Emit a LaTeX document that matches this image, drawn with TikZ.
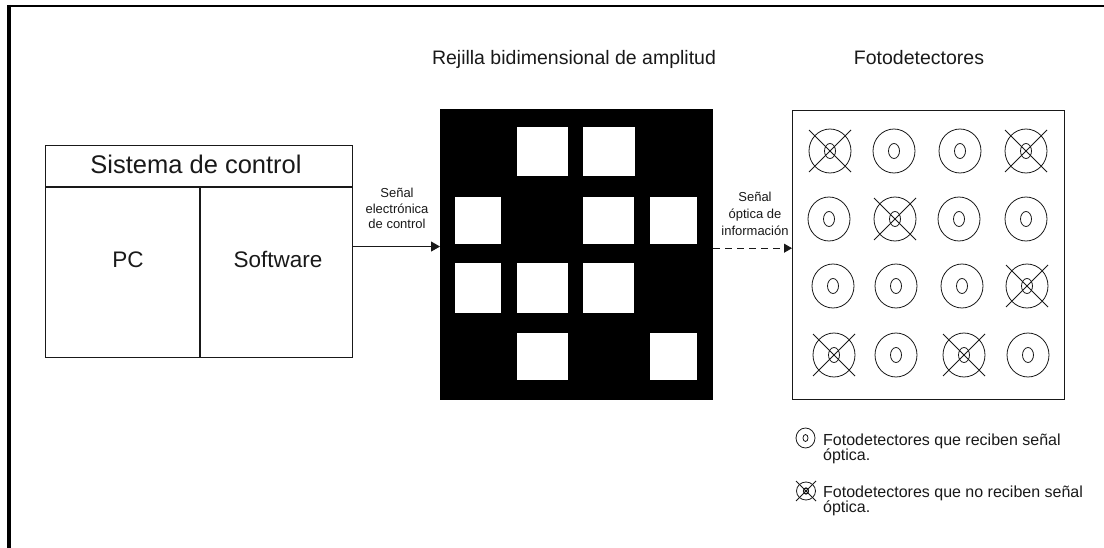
\documentclass[tikz,border=0pt]{standalone}
\usepackage{fontspec}
\setmainfont{Liberation Sans}
\usetikzlibrary{arrows.meta,shapes.geometric}
\definecolor{ink}{rgb}{0.1,0.1,0.1}

\begin{document}
\begin{tikzpicture}[x=1pt,y=-1pt,
  box/.style={draw=ink, line width=1.1pt, inner sep=0pt, anchor=north west},
  txt/.style={text=ink, inner sep=0pt},
  note/.style={txt, align=center, font=\fontsize{13}{15.5}\selectfont},
  legtext/.style={txt, anchor=base west, font=\fontsize{16}{18}\selectfont},
  sig/.style={draw=ink, line width=0.9pt, -{Triangle[length=9pt,width=10pt]}},
  det/.style={ellipse, draw=ink, line width=0.8pt, minimum width=42pt, minimum height=44pt, inner sep=0pt},
  core/.style={ellipse, draw=ink, line width=0.8pt, minimum width=11pt, minimum height=15pt, inner sep=0pt},
  xline/.style={draw=ink, line width=0.8pt},
  hole/.style={fill=white}
]
\useasboundingbox (0,0) rectangle (1104,548);

% page frame (top and left edges)
\draw[line width=2pt] (7,6.5) -- (1104,6.5);
\draw[line width=3.2pt] (9,5) -- (9,548);

% control system block
\node[box, minimum width=307pt, minimum height=212pt] (ctrl) at (45,145) {};
\draw[draw=ink, line width=1.1pt] ([yshift=-42pt]ctrl.north west) -- ([yshift=-42pt]ctrl.north east);
\draw[draw=ink, line width=1.1pt] ([xshift=155pt,yshift=-42pt]ctrl.north west) -- ([xshift=155pt]ctrl.south west);
\node[txt, anchor=base, font=\fontsize{25.5}{29}\selectfont] (ctrltitle) at (196,174) {Sistema de control};
\node[txt, anchor=base, font=\fontsize{22.5}{26}\selectfont] (pc) at (128,268) {PC};
\node[txt, anchor=base, font=\fontsize{22.5}{26}\selectfont] (sw) at (278,268) {Software};

% two-dimensional amplitude grid
\node[txt, anchor=base, font=\fontsize{19.5}{23}\selectfont] (gridtitle) at (574,65) {Rejilla bidimensional de amplitud};
\node[fill=black, inner sep=0pt, anchor=north west, minimum width=273pt, minimum height=291pt] (grid) at (440,109) {};
% open cells
\fill[hole] (517,127) rectangle (568,176);
\fill[hole] (583,127) rectangle (635,176);
\fill[hole] (455,197) rectangle (501,244);
\fill[hole] (583,197) rectangle (634,244);
\fill[hole] (650,197) rectangle (697,244);
\fill[hole] (455,263) rectangle (501,313);
\fill[hole] (517,263) rectangle (568,313);
\fill[hole] (583,263) rectangle (634,313);
\fill[hole] (517,333) rectangle (568,380);
\fill[hole] (650,333) rectangle (697,380);

% photodetector array
\node[txt, anchor=base, font=\fontsize{19.5}{23}\selectfont] (dettitle) at (919,65) {Fotodetectores};
\node[box, minimum width=272pt, minimum height=289pt] (det) at (792,110) {};
\foreach \n/\x/\y/\k in {
  11/830/151/1, 12/894/151/0, 13/960/151/0, 14/1026/151/1,
  21/829/219/0, 22/895/219/1, 23/959/219/0, 24/1026/219/0,
  31/833/286/0, 32/896/286/0, 33/962/286/0, 34/1027/286/1,
  41/834/355/1, 42/896/355/0, 43/964/355/1, 44/1028/355/0}{
  \node[det] (d\n) at (\x,\y) {};
  \node[core] (c\n) at (d\n) {};
  \ifnum\k=1
    \draw[xline] ([shift={(-21,-21)}]d\n.center) -- ([shift={(21,21)}]d\n.center)
                 ([shift={(21,-21)}]d\n.center) -- ([shift={(-21,21)}]d\n.center);
  \fi
}

% signals between the blocks
\draw[sig] ([yshift=5pt]ctrl.east) -- ([yshift=5pt]ctrl.east -| grid.west);
\node[note, anchor=south] (lab1) at (397,229) {Señal\\electrónica\\de control};
\draw[sig, dash pattern=on 7pt off 5pt, -{Triangle[length=8pt,width=9pt]}]
  ([yshift=6.5pt]grid.east) -- ([yshift=6.5pt]grid.east -| det.west);
\node[note, anchor=south, font=\fontsize{13}{17}\selectfont] (lab2) at (755,236) {Señal\\óptica de\\información};

% legend
\node[det, minimum width=19pt, minimum height=20pt] (leg1) at (805.5,438) {};
\node[core, minimum width=5pt, minimum height=7pt] (legc1) at (leg1) {};
\node[legtext] (legt1a) at (823,445) {Fotodetectores que reciben señal};
\node[legtext] (legt1b) at (823,460) {óptica.};

\node[det, minimum width=19pt, minimum height=18pt] (leg2) at (806,491) {};
\node[core, minimum width=5pt, minimum height=6pt, line width=1.2pt] (legc2) at (leg2) {};
\draw[xline] ([shift={(-10,-10)}]leg2.center) -- ([shift={(10,10)}]leg2.center)
             ([shift={(10,-10)}]leg2.center) -- ([shift={(-10,10)}]leg2.center);
\node[legtext] (legt2a) at (823,497) {Fotodetectores que no reciben señal};
\node[legtext] (legt2b) at (823,512) {óptica.};
\end{tikzpicture}
\end{document}
